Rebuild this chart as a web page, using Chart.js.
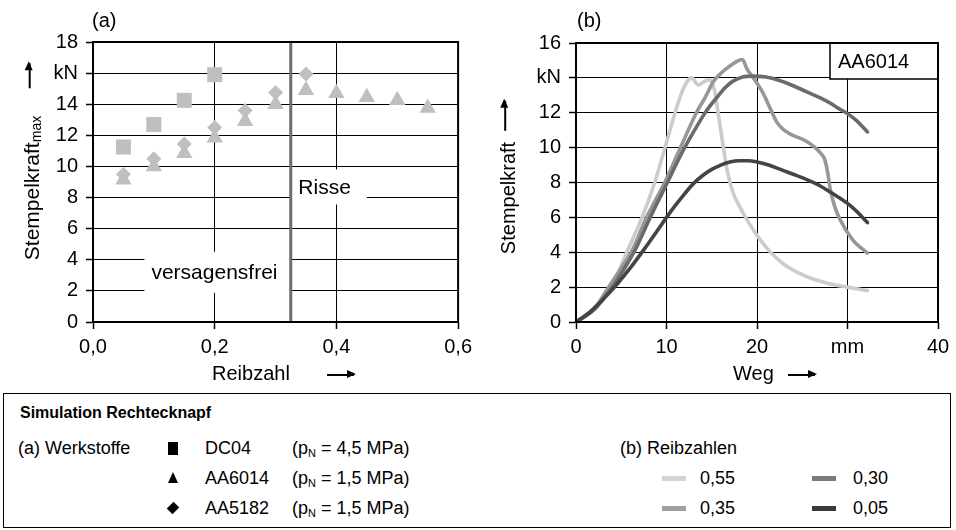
<!DOCTYPE html>
<html><head><meta charset="utf-8">
<script src="https://cdn.jsdelivr.net/npm/chart.js@4.4.1/dist/chart.umd.min.js"></script>
<style>
body{margin:0;background:#fff;width:956px;height:530px;overflow:hidden;position:relative;font-family:"Liberation Sans",Arial,sans-serif;color:#000}
.t{position:absolute;white-space:nowrap;line-height:1}
canvas{position:absolute;top:0}
.arr{position:absolute;height:1.6px;background:#000}
.arr::after{content:'';position:absolute;right:-2px;top:-4px;border-left:9px solid #000;border-top:4.8px solid transparent;border-bottom:4.8px solid transparent}
.rot{position:absolute;white-space:nowrap;line-height:1;transform:translate(-50%,-50%) rotate(-90deg);font-size:21px}
.rot sub{font-size:14px;vertical-align:-0.2em}
.leg{font-size:18px}
.leg sub{font-size:11px;vertical-align:-0.25em}
.ls{position:absolute;height:5px;width:24px}
</style></head><body>
<canvas id="ca" width="478" height="390" style="left:0"></canvas>
<canvas id="cb" width="478" height="390" style="left:478px"></canvas>

<div class="t" style="left:92px;top:10px;font-size:20px">(a)</div>
<div class="t" style="left:577px;top:10px;font-size:20px">(b)</div>

<div class="rot" style="left:32px;top:188px">Stempelkraft<sub>max</sub></div>
<div class="arr" style="left:17px;top:75px;width:25px;transform:rotate(-90deg)"></div>
<div class="rot" style="left:508px;top:198px;font-size:20px">Stempelkraft</div>
<div class="arr" style="left:490px;top:115px;width:30px;transform:rotate(-90deg)"></div>

<div class="t" style="left:212px;top:363px;font-size:20px">Reibzahl</div>
<div class="arr" style="left:327px;top:374px;width:27px"></div>
<div class="t" style="left:733px;top:363px;font-size:20px">Weg</div>
<div class="arr" style="left:788px;top:374px;width:27px"></div>

<div style="position:absolute;left:3px;top:393px;width:946px;height:133px;border:1.5px solid #000"></div>
<div class="t" style="left:20px;top:405px;font-size:16px;font-weight:bold">Simulation Rechtecknapf</div>
<div class="t leg" style="left:18px;top:439px">(a) Werkstoffe</div>
<div style="position:absolute;left:168px;top:442px;width:10px;height:13px;background:#000"></div>
<div style="position:absolute;left:168px;top:472px;width:0;height:0;border-left:5px solid transparent;border-right:5px solid transparent;border-bottom:11px solid #000"></div>
<div style="position:absolute;left:169px;top:504px;width:8px;height:8px;background:#000;transform:rotate(45deg) scaleY(1.2)"></div>
<div class="t leg" style="left:205px;top:439px">DC04</div>
<div class="t leg" style="left:205px;top:469px">AA6014</div>
<div class="t leg" style="left:205px;top:499px">AA5182</div>
<div class="t leg" style="left:292px;top:439px">(p<sub>N</sub> = 4,5 MPa)</div>
<div class="t leg" style="left:292px;top:469px">(p<sub>N</sub> = 1,5 MPa)</div>
<div class="t leg" style="left:292px;top:499px">(p<sub>N</sub> = 1,5 MPa)</div>
<div class="t leg" style="left:620px;top:439px">(b) Reibzahlen</div>
<div class="ls" style="left:662px;top:476px;background:#d4d4d4"></div>
<div class="t leg" style="left:700px;top:469px">0,55</div>
<div class="ls" style="left:662px;top:506px;background:#a0a0a0"></div>
<div class="t leg" style="left:700px;top:499px">0,35</div>
<div class="ls" style="left:812px;top:476px;background:#7a7a7a"></div>
<div class="t leg" style="left:853px;top:469px">0,30</div>
<div class="ls" style="left:812px;top:506px;background:#3a3a3a"></div>
<div class="t leg" style="left:853px;top:499px">0,05</div>

<script>
// ---------- (a) data ----------
const reibzahlDC04 = [0.05, 0.10, 0.15, 0.20];
const kraftDC04 = [11.25, 12.7, 14.25, 15.9];
const reibzahlAA6014 = [0.05, 0.10, 0.15, 0.20, 0.25, 0.30, 0.35, 0.40, 0.45, 0.50, 0.55];
const kraftAA6014 = [9.15, 10.0, 10.85, 11.85, 12.9, 14.0, 14.9, 14.7, 14.45, 14.25, 13.75];
const reibzahlAA5182 = [0.05, 0.10, 0.15, 0.20, 0.25, 0.30, 0.35];
const kraftAA5182 = [9.5, 10.5, 11.45, 12.5, 13.6, 14.75, 15.95];
const grenzReibzahl = 0.325;
const aXTickLabels = ['0,0', '0,2', '0,4', '0,6'];
const aYTickLabels = ['0', '2', '4', '6', '8', '10', '12', '14', 'kN', '18'];

// ---------- (b) data ----------
const weg055 = [0, 2, 4, 5.6, 7.3, 8.7, 10, 11.5, 12.3, 12.8, 13.5, 14.2, 14.8, 15.3, 15.7, 16.2, 16.7, 17.3, 18.1, 19.2, 20.3, 21.4, 23, 25.5, 28, 30, 32.2];
const kraft055 = [0, 0.8, 2.1, 4, 6, 8, 10.3, 12.9, 13.8, 14.0, 13.6, 13.8, 13.9, 13.3, 12.0, 10.3, 8.7, 7.5, 6.6, 5.6, 4.75, 4.05, 3.3, 2.6, 2.2, 2.0, 1.8];
const weg035 = [0, 2, 3.6, 5, 6.2, 7.8, 9.8, 11.2, 12.4, 13.4, 14.3, 15.2, 16.2, 17.2, 18.0, 18.4, 18.9, 19.6, 20.7, 21.5, 22.2, 23, 23.8, 25.5, 27, 27.5, 27.8, 28.1, 28.6, 29.2, 30.6, 32.2];
const kraft035 = [0, 0.75, 2, 3.1, 4.1, 6, 8, 9.6, 11.0, 12.1, 12.9, 13.8, 14.35, 14.75, 15.0, 15.05, 14.5, 14.0, 13.1, 12.2, 11.45, 11.0, 10.75, 10.35, 9.7, 9.3, 8.6, 7.6, 6.6, 5.85, 4.7, 3.95];
const weg030 = [0, 2, 4, 5.5, 6.5, 8.2, 10.1, 11.6, 13.1, 14.4, 15.6, 16.5, 17.3, 18.4, 19.5, 21, 22.5, 24, 25.5, 27, 28.1, 29, 30, 31, 32.2];
const kraft030 = [0, 0.7, 2, 3.2, 4.1, 6, 8, 9.6, 11, 12.1, 12.9, 13.45, 13.8, 14.05, 14.1, 14.05, 13.85, 13.55, 13.2, 12.85, 12.55, 12.25, 11.95, 11.55, 10.9];
const weg005 = [0, 1.5, 3, 4.5, 6, 7.5, 9, 10, 11, 12, 13, 14, 15, 16, 17, 18, 19, 20, 21, 22, 23, 24, 25, 26, 27, 28, 29, 30, 31, 32.2];
const kraft005 = [0, 0.55, 1.3, 2.15, 3.1, 4.15, 5.25, 6.0, 6.7, 7.35, 7.95, 8.4, 8.75, 9.0, 9.17, 9.25, 9.25, 9.18, 9.05, 8.87, 8.67, 8.47, 8.28, 8.05, 7.8, 7.48, 7.15, 6.8, 6.35, 5.7];
const bXTickLabels = ['0', '10', '20', 'mm', '40'];
const bYTickLabels = ['0', '2', '4', '6', '8', '10', '12', 'kN', '16'];

const FONT = '"Liberation Sans", Arial, sans-serif';
const pts = (xs, ys) => xs.map((x, i) => ({x, y: ys[i]}));
const markerGray = '#bfbfbf';

function axisCommon(extra) {
  return Object.assign({
    type: 'linear',
    grid: {color: '#000', lineWidth: 1, borderDash: [4, 3], tickBorderDash: [], tickLength: 7, tickWidth: 1.5, tickColor: '#000'},
    border: {display: true, color: '#000', width: 2},
  }, extra);
}

const framePlugin = {
  id: 'frame',
  afterDraw(chart) {
    const {ctx, chartArea: a} = chart;
    ctx.save();
    ctx.strokeStyle = '#000'; ctx.lineWidth = 2;
    ctx.strokeRect(a.left, a.top, a.right - a.left, a.bottom - a.top);
    ctx.restore();
  }
};

const annotA = {
  id: 'annotA',
  beforeDatasetsDraw(chart) {
    const {ctx, chartArea: a, scales: {x, y}} = chart;
    const labels = [
      {text: 'versagensfrei', x: 0.096, y: 3.2, pl: 7, pr: 12, h: 41},
      {text: 'Risse', x: 0.3375, y: 8.68, pl: 7, pr: 16, h: 35}
    ];
    ctx.save();
    ctx.font = '21px ' + FONT;
    ctx.textBaseline = 'middle';
    ctx.textAlign = 'left';
    for (const l of labels) {
      const px = x.getPixelForValue(l.x), py = y.getPixelForValue(l.y);
      const w = ctx.measureText(l.text).width;
      ctx.fillStyle = '#fff';
      ctx.fillRect(px - l.pl, py - l.h / 2, w + l.pl + l.pr, l.h);
      ctx.fillStyle = '#000';
      ctx.fillText(l.text, px, py + 1);
    }
    const gx = x.getPixelForValue(grenzReibzahl);
    ctx.strokeStyle = '#6e6e6e'; ctx.lineWidth = 3;
    ctx.beginPath(); ctx.moveTo(gx, a.top); ctx.lineTo(gx, a.bottom); ctx.stroke();
    ctx.restore();
  }
};

const annotB = {
  id: 'annotB',
  afterDatasetsDraw(chart) {
    const {ctx, chartArea: a} = chart;
    const w = 108, h = 36;
    ctx.save();
    ctx.fillStyle = '#fff';
    ctx.fillRect(a.right - w, a.top, w, h);
    ctx.strokeStyle = '#000'; ctx.lineWidth = 1.5;
    ctx.strokeRect(a.right - w, a.top, w, h);
    ctx.fillStyle = '#000';
    ctx.font = '20px ' + FONT;
    ctx.textBaseline = 'middle';
    ctx.fillText('AA6014', a.right - w + 8, a.top + h / 2 + 1);
    ctx.restore();
  }
};

Chart.defaults.font.family = FONT;
Chart.defaults.font.size = 20;
Chart.defaults.color = '#000';

new Chart(document.getElementById('ca'), {
  type: 'scatter',
  data: {datasets: [
    {label: 'DC04', data: pts(reibzahlDC04, kraftDC04), pointStyle: 'rect', pointRadius: 10.6, backgroundColor: markerGray, borderWidth: 0},
    {label: 'AA5182', data: pts(reibzahlAA5182, kraftAA5182), pointStyle: 'rectRot', pointRadius: 7.5, backgroundColor: markerGray, borderWidth: 0},
    {label: 'AA6014', data: pts(reibzahlAA6014, kraftAA6014), pointStyle: 'triangle', pointRadius: 9.5, backgroundColor: markerGray, borderWidth: 0}
  ]},
  options: {
    responsive: false, animation: false, events: [],
    layout: {padding: {left: 0, top: 42, right: 17, bottom: 0}},
    plugins: {legend: {display: false}, tooltip: {enabled: false}},
    scales: {
      x: axisCommon({min: 0, max: 0.6,
        ticks: {stepSize: 0.2, autoSkip: false, maxRotation: 0, padding: 6, callback: v => aXTickLabels[Math.round(v / 0.2)]},
        afterFit: s => { s.height = 68; }}),
      y: axisCommon({min: 0, max: 18,
        ticks: {stepSize: 2, autoSkip: false, padding: 8, callback: v => aYTickLabels[Math.round(v / 2)]},
        afterFit: s => { s.width = 93; }})
    }
  },
  plugins: [annotA, framePlugin]
});

const lineDs = (label, xs, ys, color, order) => ({
  label, data: pts(xs, ys), showLine: true, borderColor: color, borderWidth: 3.6,
  pointRadius: 0, cubicInterpolationMode: 'monotone', borderCapStyle: 'round', borderJoinStyle: 'round', order
});

new Chart(document.getElementById('cb'), {
  type: 'scatter',
  data: {datasets: [
    lineDs('0,55', weg055, kraft055, '#cccccc', 4),
    lineDs('0,35', weg035, kraft035, '#979797', 3),
    lineDs('0,30', weg030, kraft030, '#6b6b6b', 2),
    lineDs('0,05', weg005, kraft005, '#444444', 1)
  ]},
  options: {
    responsive: false, animation: false, events: [],
    layout: {padding: {left: 0, top: 43, right: 18, bottom: 0}},
    plugins: {legend: {display: false}, tooltip: {enabled: false}},
    scales: {
      x: axisCommon({min: 0, max: 40,
        ticks: {stepSize: 10, autoSkip: false, maxRotation: 0, padding: 6, callback: v => bXTickLabels[Math.round(v / 10)]},
        afterFit: s => { s.height = 68; }}),
      y: axisCommon({min: 0, max: 16,
        ticks: {stepSize: 2, autoSkip: false, padding: 8, callback: v => bYTickLabels[Math.round(v / 2)]},
        afterFit: s => { s.width = 98; }})
    }
  },
  plugins: [annotB, framePlugin]
});
</script>
</body></html>
